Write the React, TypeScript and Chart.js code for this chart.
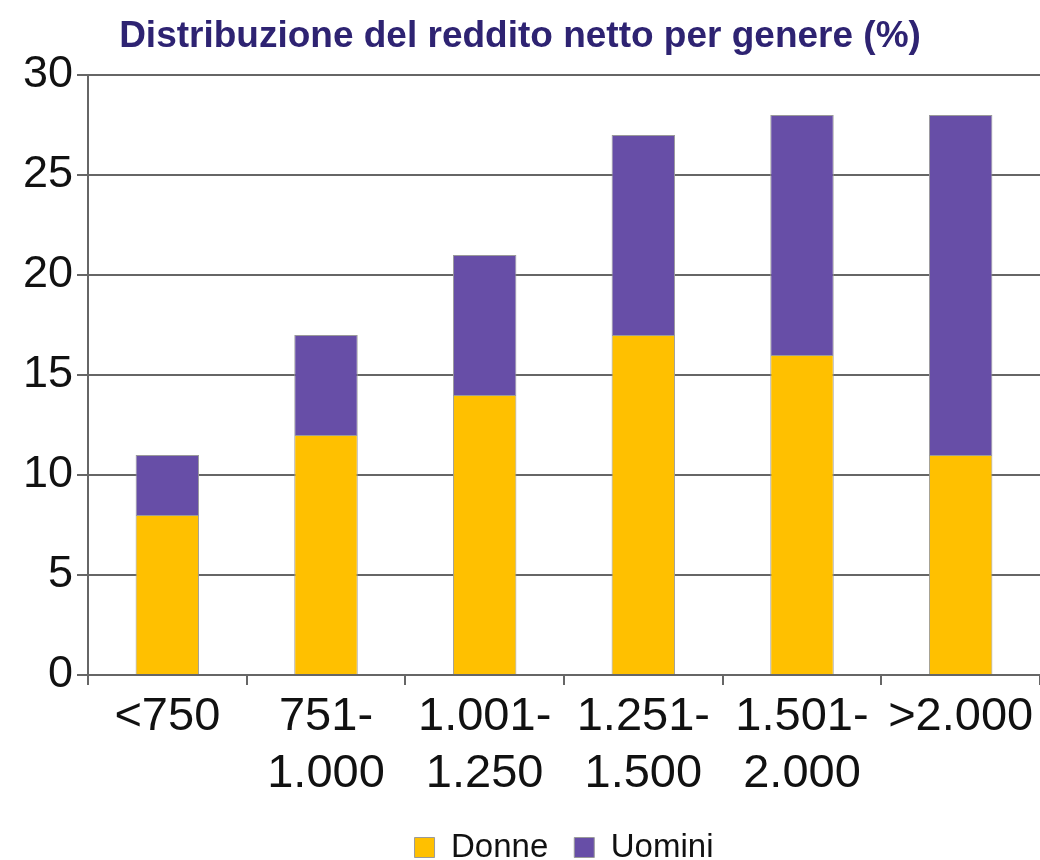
import React, { useEffect, useRef } from 'react';
import { Chart, registerables } from 'chart.js';

Chart.register(...registerables);

const categories: (string | string[])[] = [
  '<750',
  ['751-', '1.000'],
  ['1.001-', '1.250'],
  ['1.251-', '1.500'],
  ['1.501-', '2.000'],
  '>2.000',
];
const donne = [8, 12, 14, 17, 16, 11];
const uomini = [3, 5, 7, 10, 12, 17];
const yMin = 0;
const yMax = 30;
const yStep = 5;

const FONT = "'Liberation Sans', Arial, Helvetica, sans-serif";

export default function App() {
  const ref = useRef<HTMLCanvasElement | null>(null);

  useEffect(() => {
    if (!ref.current) return;
    const chart = new Chart(ref.current, {
      type: 'bar',
      data: {
        labels: categories,
        datasets: [
          {
            label: 'Donne',
            data: donne,
            backgroundColor: '#FFC000',
            borderColor: '#9a9a9a',
            borderWidth: 1,
            barPercentage: 0.4,
            categoryPercentage: 1,
          },
          {
            label: 'Uomini',
            data: uomini,
            backgroundColor: '#674EA7',
            borderColor: '#9a9a9a',
            borderWidth: 1,
            barPercentage: 0.4,
            categoryPercentage: 1,
          },
        ],
      },
      options: {
        responsive: false,
        animation: false,
        layout: { padding: 0 },
        plugins: {
          title: {
            display: true,
            text: 'Distribuzione del reddito netto per genere (%)',
            color: '#2E2372',
            font: { family: FONT, size: 37, weight: 'bold', lineHeight: 1.2 },
            padding: { top: 15, bottom: 15.6 },
          },
          legend: {
            position: 'bottom',
            fullSize: false,
            maxHeight: 55,
            labels: {
              font: { family: FONT, size: 33 },
              color: '#111',
              boxWidth: 20,
              boxHeight: 20,
              padding: 26,
            },
          },
          tooltip: { enabled: false },
        },
        scales: {
          x: {
            stacked: true,
            grid: { drawOnChartArea: false, drawTicks: true, tickLength: 10, color: '#666', lineWidth: 2 },
            border: { color: '#666', width: 2 },
            ticks: {
              font: { family: FONT, size: 47, lineHeight: 1.2 },
              color: '#111',
              maxRotation: 0,
              minRotation: 0,
              autoSkip: false,
              padding: 4,
            },
            afterFit: (s: any) => {
              s.height = 130;
            },
          },
          y: {
            stacked: true,
            min: yMin,
            max: yMax,
            ticks: { stepSize: yStep, font: { family: FONT, size: 45 }, color: '#111', padding: 4 },
            grid: { color: '#666', lineWidth: 2, tickLength: 11 },
            border: { color: '#666', width: 2 },
            afterFit: (s: any) => {
              s.width = 88;
            },
          },
        },
      },
    });
    return () => chart.destroy();
  }, []);

  return (
    <div style={{ position: 'fixed', left: 0, top: 0, width: 1040, height: 860, background: '#fff' }}>
      <canvas ref={ref} width={1040} height={860} style={{ width: 1040, height: 860 }} />
    </div>
  );
}
